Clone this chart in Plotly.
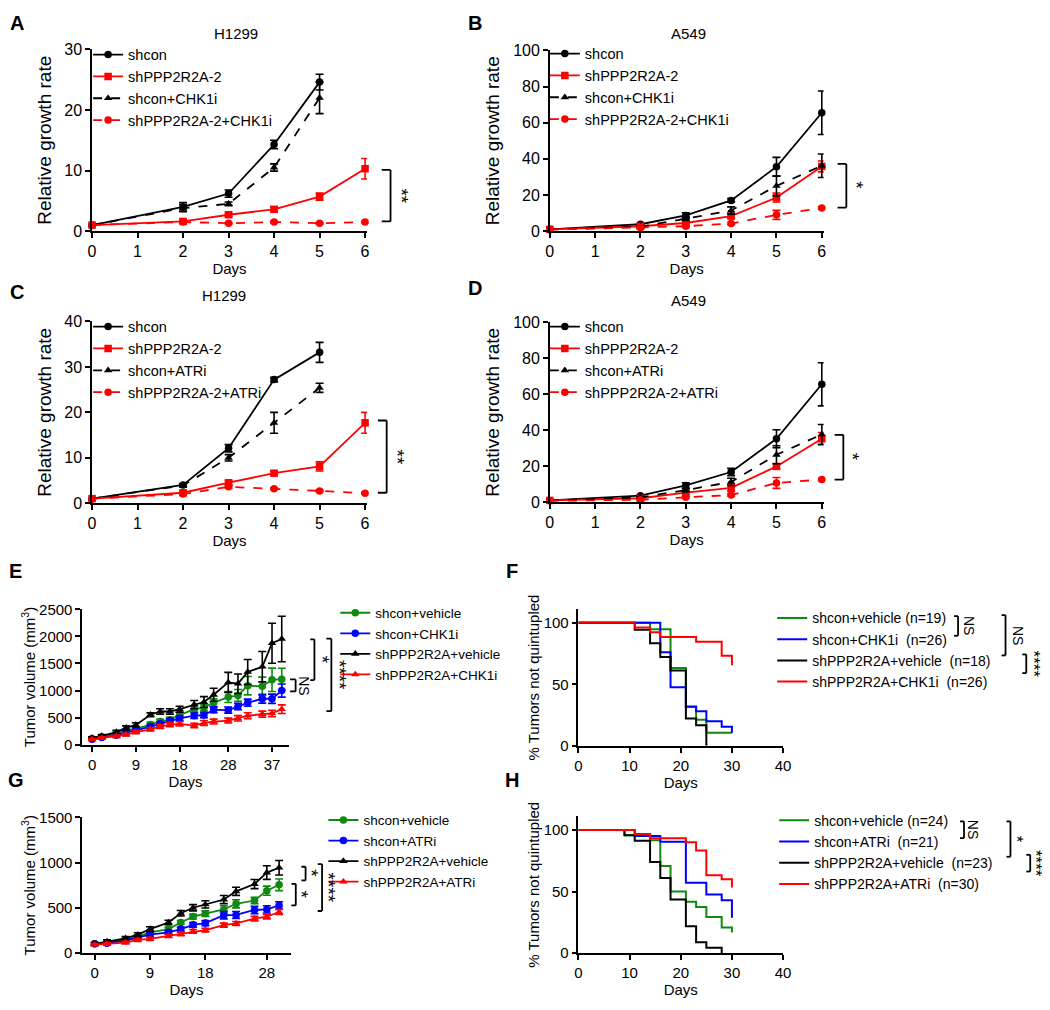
import plotly.graph_objects as go

W, H = 1050, 1010
OFF = 8  # page body margin of the rendered html
def fx(px): return (px - OFF) / W
def fy(py): return 1 - (py - OFF) / H

BLACK, RED, BLUE, GREEN = '#000000', '#ff0000', '#0000ff', '#0f8a0f'
FONT = 'Arial, Liberation Sans, Helvetica, sans-serif'

# ---------------- data: growth assays (A-D) ----------------
days_full = [0, 2, 3, 4, 5, 6]
days_to5 = [0, 2, 3, 4, 5]

A_names = ['shcon', 'shPPP2R2A-2', 'shcon+CHK1i', 'shPPP2R2A-2+CHK1i']
A_shcon = [1.0, 4.0, 6.2, 14.3, 24.6]
A_shcon_err = [0.1, 0.7, 0.6, 0.7, 1.3]
A_sh = [1.0, 1.6, 2.7, 3.6, 5.7, 10.3]
A_sh_err = [0.1, 0.3, 0.3, 0.4, 0.6, 1.7]
A_con_i = [1.0, 3.8, 4.5, 10.5, 22.0]
A_con_i_err = [0.1, 0.6, 0.3, 0.6, 2.6]
A_sh_i = [1.0, 1.5, 1.3, 1.5, 1.3, 1.5]
A_sh_i_err = [0.1, 0.1, 0.1, 0.1, 0.1, 0.1]

B_names = ['shcon', 'shPPP2R2A-2', 'shcon+CHK1i', 'shPPP2R2A-2+CHK1i']
B_shcon = [1.0, 3.8, 8.7, 17.0, 35.6, 65.5]
B_shcon_err = [0.2, 0.5, 1.5, 1.0, 5.2, 12.0]
B_sh = [1.0, 2.7, 4.5, 8.3, 18.6, 35.8]
B_sh_err = [0.2, 0.4, 0.8, 1.2, 2.5, 3.0]
B_con_i = [1.0, 2.4, 6.9, 11.4, 25.0, 36.2]
B_con_i_err = [0.2, 0.4, 1.0, 2.0, 5.5, 6.5]
B_sh_i = [0.8, 1.8, 2.7, 4.2, 9.0, 12.8]
B_sh_i_err = [0.1, 0.3, 0.5, 0.6, 2.5, 0.7]

C_names = ['shcon', 'shPPP2R2A-2', 'shcon+ATRi', 'shPPP2R2A-2+ATRi']
C_shcon = [1.0, 4.0, 12.1, 27.2, 33.2]
C_shcon_err = [0.1, 0.3, 0.8, 0.5, 2.2]
C_sh = [1.0, 2.3, 4.5, 6.6, 8.1, 17.7]
C_sh_err = [0.1, 0.3, 0.5, 0.4, 1.0, 2.3]
C_con_i = [1.0, 3.9, 10.0, 17.7, 25.4]
C_con_i_err = [0.1, 0.3, 0.7, 2.3, 1.0]
C_sh_i = [1.0, 2.0, 3.6, 3.2, 2.7, 2.2]
C_sh_i_err = [0.1, 0.2, 0.3, 0.2, 0.2, 0.2]

D_names = ['shcon', 'shPPP2R2A-2', 'shcon+ATRi', 'shPPP2R2A-2+ATRi']
D_shcon = [1.0, 3.6, 9.3, 16.8, 35.3, 65.6]
D_shcon_err = [0.2, 0.5, 1.5, 2.0, 5.0, 12.0]
D_sh = [1.0, 2.2, 5.3, 8.0, 19.9, 35.3]
D_sh_err = [0.2, 0.4, 1.0, 2.0, 1.5, 3.5]
D_con_i = [1.0, 2.7, 6.7, 11.3, 26.4, 37.7]
D_con_i_err = [0.2, 0.4, 1.0, 2.0, 5.0, 5.5]
D_sh_i = [0.8, 1.3, 2.7, 4.0, 10.7, 12.6]
D_sh_i_err = [0.1, 0.3, 0.5, 0.6, 3.0, 0.7]

# ---------------- data: tumor volume (E, G) ----------------
E_days = [0, 2, 5, 7, 9, 12, 14, 16, 18, 21, 23, 25, 28, 30, 32, 35, 37, 39]
E_names = ['shcon+vehicle', 'shcon+CHK1i', 'shPPP2R2A+vehicle', 'shPPP2R2A+CHK1i']
E_con_veh = [114, 145, 205, 265, 295, 373, 428, 464, 548, 657, 687, 777, 880, 910, 1090, 1078, 1199, 1211]
E_con_veh_err = [15, 20, 25, 30, 35, 40, 40, 45, 50, 55, 60, 70, 100, 110, 170, 170, 215, 200]
E_con_chk = [102, 133, 175, 235, 265, 337, 386, 446, 488, 536, 548, 645, 639, 705, 777, 849, 849, 1000]
E_con_chk_err = [15, 20, 25, 30, 30, 35, 40, 40, 45, 50, 50, 55, 55, 60, 65, 80, 85, 120]
E_sh_veh = [126, 163, 235, 313, 367, 554, 614, 614, 657, 741, 789, 922, 1151, 1127, 1343, 1440, 1873, 1952]
E_sh_veh_err = [20, 25, 30, 35, 40, 35, 50, 50, 55, 75, 100, 120, 185, 180, 230, 280, 370, 420]
E_sh_chk = [102, 126, 157, 187, 235, 283, 337, 373, 386, 355, 404, 428, 446, 488, 536, 566, 578, 657]
E_sh_chk_err = [15, 20, 20, 25, 30, 30, 35, 40, 40, 40, 45, 45, 45, 50, 55, 55, 60, 80]
E_ticks = [0, 9, 18, 28, 37]

G_days = [0, 2, 5, 7, 9, 12, 14, 16, 18, 21, 23, 26, 28, 30]
G_names = ['shcon+vehicle', 'shcon+ATRi', 'shPPP2R2A+vehicle', 'shPPP2R2A+ATRi']
G_con_veh = [102, 113, 145, 182, 229, 265, 338, 403, 436, 483, 545, 581, 690, 755]
G_con_veh_err = [12, 15, 18, 20, 22, 22, 20, 25, 30, 40, 45, 35, 50, 65]
G_con_atr = [102, 109, 138, 174, 203, 229, 265, 312, 331, 418, 421, 476, 483, 527]
G_con_atr_err = [12, 14, 16, 18, 20, 20, 22, 25, 28, 40, 38, 40, 40, 40]
G_sh_veh = [102, 127, 163, 203, 265, 338, 440, 501, 538, 592, 683, 763, 890, 944]
G_sh_veh_err = [15, 18, 20, 22, 25, 25, 30, 35, 40, 45, 45, 50, 75, 80]
G_sh_atr = [94, 102, 116, 145, 156, 189, 211, 240, 254, 309, 327, 381, 403, 454]
G_sh_atr_err = [10, 12, 14, 16, 18, 18, 20, 20, 20, 22, 22, 25, 25, 28]
G_ticks = [0, 9, 18, 28]

# ---------------- data: Kaplan-Meier (F, H) ----------------
F_names = ['shcon+vehicle (n=19)', 'shcon+CHK1i\u00a0 (n=26)',
           'shPPP2R2A+vehicle\u00a0 (n=18)', 'shPPP2R2A+CHK1i\u00a0 (n=26)']
F_con_veh_t = [0, 14, 18, 21, 23, 25, 30]
F_con_veh_s = [100, 94.7, 63.2, 31.6, 21.1, 10.5, 10.5]
F_con_chk_t = [0, 16, 18, 21, 23, 25, 28, 30]
F_con_chk_s = [100, 76.0, 47.5, 32.0, 28.0, 20.0, 15.5, 10.6]
F_sh_veh_t = [0, 11, 14, 16, 18, 21, 23, 25]
F_sh_veh_s = [100, 94.4, 83.3, 72.2, 61.1, 22.2, 16.7, 0]
F_sh_chk_t = [0, 11, 14, 16, 23, 28, 30]
F_sh_chk_s = [100, 96.2, 92.3, 88.5, 84.6, 73.1, 65.4]

H_names = ['shcon+vehicle (n=24)', 'shcon+ATRi\u00a0 (n=21)',
           'shPPP2R2A+vehicle\u00a0 (n=23)', 'shPPP2R2A+ATRi\u00a0 (n=30)']
H_con_veh_t = [0, 9, 14, 16, 18, 21, 23, 25, 28, 30]
H_con_veh_s = [100, 95.8, 91.7, 70.8, 50.0, 41.7, 37.5, 29.2, 20.8, 16.7]
H_con_atr_t = [0, 11, 16, 21, 25, 28, 30]
H_con_atr_s = [100, 95.2, 90.5, 57.1, 47.6, 42.9, 28.6]
H_sh_veh_t = [0, 9, 11, 14, 16, 18, 21, 23, 25, 28]
H_sh_veh_s = [100, 95.7, 91.3, 73.9, 60.9, 43.5, 21.7, 8.7, 4.3, 0]
H_sh_atr_t = [0, 11, 14, 21, 23, 25, 28, 30]
H_sh_atr_s = [100, 96.7, 93.3, 90.0, 83.3, 63.3, 60.0, 53.3]

fig = go.Figure()

def add_growth(idx, x, y, err, name, color, symbol, dash):
    sfx = '' if idx == 1 else str(idx)
    fig.add_trace(go.Scatter(
        x=x, y=y, name=name, mode='lines+markers',
        xaxis='x' + sfx, yaxis='y' + sfx, legend='legend' + sfx,
        line=dict(color=color, width=1.8, dash=dash),
        marker=dict(color=color, symbol=symbol, size=7.5),
        error_y=dict(type='data', array=err, color=color, thickness=1.6, width=4),
        cliponaxis=False))

def add_km(idx, t, s, name, color):
    sfx = str(idx)
    fig.add_trace(go.Scatter(
        x=t, y=s, name=name, mode='lines', line_shape='hv',
        xaxis='x' + sfx, yaxis='y' + sfx, legend='legend' + sfx,
        line=dict(color=color, width=2), cliponaxis=False))

# A
add_growth(1, days_to5, A_shcon, A_shcon_err, A_names[0], BLACK, 'circle', 'solid')
add_growth(1, days_full, A_sh, A_sh_err, A_names[1], RED, 'square', 'solid')
add_growth(1, days_to5, A_con_i, A_con_i_err, A_names[2], BLACK, 'triangle-up', 'dash')
add_growth(1, days_full, A_sh_i, A_sh_i_err, A_names[3], RED, 'circle', 'dash')
# B
add_growth(2, days_full, B_shcon, B_shcon_err, B_names[0], BLACK, 'circle', 'solid')
add_growth(2, days_full, B_sh, B_sh_err, B_names[1], RED, 'square', 'solid')
add_growth(2, days_full, B_con_i, B_con_i_err, B_names[2], BLACK, 'triangle-up', 'dash')
add_growth(2, days_full, B_sh_i, B_sh_i_err, B_names[3], RED, 'circle', 'dash')
# C
add_growth(3, days_to5, C_shcon, C_shcon_err, C_names[0], BLACK, 'circle', 'solid')
add_growth(3, days_full, C_sh, C_sh_err, C_names[1], RED, 'square', 'solid')
add_growth(3, days_to5, C_con_i, C_con_i_err, C_names[2], BLACK, 'triangle-up', 'dash')
add_growth(3, days_full, C_sh_i, C_sh_i_err, C_names[3], RED, 'circle', 'dash')
# D
add_growth(4, days_full, D_shcon, D_shcon_err, D_names[0], BLACK, 'circle', 'solid')
add_growth(4, days_full, D_sh, D_sh_err, D_names[1], RED, 'square', 'solid')
add_growth(4, days_full, D_con_i, D_con_i_err, D_names[2], BLACK, 'triangle-up', 'dash')
add_growth(4, days_full, D_sh_i, D_sh_i_err, D_names[3], RED, 'circle', 'dash')
# E
add_growth(5, E_days, E_con_veh, E_con_veh_err, E_names[0], GREEN, 'circle', 'solid')
add_growth(5, E_days, E_con_chk, E_con_chk_err, E_names[1], BLUE, 'circle', 'solid')
add_growth(5, E_days, E_sh_veh, E_sh_veh_err, E_names[2], BLACK, 'triangle-up', 'solid')
add_growth(5, E_days, E_sh_chk, E_sh_chk_err, E_names[3], RED, 'triangle-up', 'solid')
# F
add_km(6, F_con_veh_t, F_con_veh_s, F_names[0], GREEN)
add_km(6, F_con_chk_t, F_con_chk_s, F_names[1], BLUE)
add_km(6, F_sh_veh_t, F_sh_veh_s, F_names[2], BLACK)
add_km(6, F_sh_chk_t, F_sh_chk_s, F_names[3], RED)
# G
add_growth(7, G_days, G_con_veh, G_con_veh_err, G_names[0], GREEN, 'circle', 'solid')
add_growth(7, G_days, G_con_atr, G_con_atr_err, G_names[1], BLUE, 'circle', 'solid')
add_growth(7, G_days, G_sh_veh, G_sh_veh_err, G_names[2], BLACK, 'triangle-up', 'solid')
add_growth(7, G_days, G_sh_atr, G_sh_atr_err, G_names[3], RED, 'triangle-up', 'solid')
# H
add_km(8, H_con_veh_t, H_con_veh_s, H_names[0], GREEN)
add_km(8, H_con_atr_t, H_con_atr_s, H_names[1], BLUE)
add_km(8, H_sh_veh_t, H_sh_veh_s, H_names[2], BLACK)
add_km(8, H_sh_atr_t, H_sh_atr_s, H_names[3], RED)

# ---------------- axes ----------------
panels = {
    1: dict(px=(89, 367), py=(41, 226), xr=[0, 6.04], yr=[0, 30], ydt=10, ytitle='Relative growth rate', fs=16, tfs=19, ystand=8),
    2: dict(px=(552, 829), py=(42, 226), xr=[0, 6.04], yr=[0, 100], ydt=20, ytitle='Relative growth rate', fs=16, tfs=19, ystand=8),
    3: dict(px=(89, 367), py=(318, 503), xr=[0, 6.04], yr=[0, 40], ydt=10, ytitle='Relative growth rate', fs=16, tfs=19, ystand=8),
    4: dict(px=(552, 829), py=(319, 502), xr=[0, 6.04], yr=[0, 100], ydt=20, ytitle='Relative growth rate', fs=16, tfs=19, ystand=8),
    5: dict(px=(79, 288), py=(611, 749), xr=[-2.03, 40.45], yr=[0, 2500], ydt=500, ytitle='Tumor volume (mm<sup>3</sup>)', fs=15, tfs=15, ystand=0),
    6: dict(px=(581, 788), py=(611, 750), xr=[0, 40], yr=[0, 111], ydt=None, ytitle='% Tumors not quintupled', fs=15, tfs=15, ystand=0),
    7: dict(px=(79, 290), py=(823, 961), xr=[-2.04, 31.9], yr=[0, 1500], ydt=500, ytitle='Tumor volume (mm<sup>3</sup>)', fs=15, tfs=15, ystand=0),
    8: dict(px=(581, 788), py=(822, 961), xr=[0, 40], yr=[0, 111], ydt=None, ytitle='% Tumors not quintupled', fs=15, tfs=15, ystand=0),
}

axis_common = dict(showline=True, linecolor='black', linewidth=1.5, ticks='outside',
                   ticklen=5, tickwidth=1.5, tickcolor='black', showgrid=False,
                   zeroline=False, color='black')
layout_axes = {}
for i, p in panels.items():
    sfx = '' if i == 1 else str(i)
    xa = dict(axis_common, domain=[fx(p['px'][0]), fx(p['px'][1])], range=p['xr'],
              anchor='y' + sfx, tickfont=dict(size=p['fs']),
              title=dict(text='Days', font=dict(size=15), standoff=2))
    if i <= 4:
        xa.update(tickmode='array', tickvals=[0, 1, 2, 3, 4, 5, 6])
    elif i == 5:
        xa.update(tickmode='array', tickvals=E_ticks)
    elif i == 7:
        xa.update(tickmode='array', tickvals=G_ticks)
    else:
        xa.update(tickmode='array', tickvals=[0, 10, 20, 30, 40])
    ya = dict(axis_common, domain=[fy(p['py'][1]), fy(p['py'][0])], range=p['yr'],
              anchor='x' + sfx, tickfont=dict(size=p['fs']),
              title=dict(text=p['ytitle'], font=dict(size=p['tfs']), standoff=p['ystand']))
    if p['ydt'] is None:
        ya.update(tickmode='array', tickvals=[0, 50, 100])
    else:
        ya.update(dtick=p['ydt'], tick0=0)
    layout_axes['xaxis' + sfx] = xa
    layout_axes['yaxis' + sfx] = ya

# ---------------- legends ----------------
# (text start x, first entry centre y, font size) in reference pixels
legend_pos = {1: (125, 45, 14.5), 2: (587, 44, 14.5), 3: (125, 322, 14.5), 4: (587, 322, 14.5),
              5: (375, 614, 13.5), 6: (817, 619, 14), 7: (363, 825, 13.5), 8: (819, 825, 14)}
layout_legends = {}
for i, (lx, ly, lfs) in legend_pos.items():
    key = 'legend' if i == 1 else 'legend' + str(i)
    layout_legends[key] = dict(x=fx(lx - 40), y=fy(ly - 15), xanchor='left', yanchor='top',
                               bgcolor='rgba(0,0,0,0)', font=dict(size=lfs, color='black'),
                               tracegroupgap=0)

# ---------------- annotations ----------------
ann = []
for letter, (lx, ly) in {'A': (13, 14), 'B': (476, 14), 'C': (13, 288), 'D': (476, 284),
                         'E': (12, 572), 'F': (514, 572), 'G': (12, 785), 'H': (514, 785)}.items():
    ann.append(dict(text='<b>%s</b>' % letter, x=fx(lx), y=fy(ly), xref='paper', yref='paper',
                    xanchor='center', yanchor='middle', showarrow=False,
                    font=dict(size=20, color='black')))
for txt, (tx, ty) in [('H1299', (235, 25)), ('A549', (692, 25)), ('H1299', (222, 292)), ('A549', (692, 297))]:
    ann.append(dict(text=txt, x=fx(tx), y=fy(ty), xref='paper', yref='paper',
                    xanchor='center', yanchor='middle', showarrow=False,
                    font=dict(size=15, color='black')))

shapes = []
# brackets tied to data axes: (panel, x_vertical, x_tick, y_top, y_bottom, text, x_text)
brackets = [
    (1, 1.086, 1.054, 10.1, 1.6, '**', 1.125),
    (2, 1.083, 1.051, 37.2, 13.0, '*', 1.12),
    (3, 1.072, 1.040, 18.2, 2.3, '**', 1.11),
    (4, 1.072, 1.040, 37.5, 12.6, '*', 1.105),
    (5, 1.033, 1.006, 1205, 985, 'NS', 1.07),
    (5, 1.124, 1.104, 1946, 1193, '*', 1.16),
    (5, 1.206, 1.182, 1958, 620, '****', 1.243),
    (7, 1.071, 1.051, 955, 803, '*', 1.098),
    (7, 1.024, 1.003, 766, 527, '*', 1.05),
    (7, 1.150, 1.129, 984, 465, '****', 1.183),
]
for (i, xv, xt, yt, yb, txt, xtx) in brackets:
    sfx = '' if i == 1 else str(i)
    for (x0, y0, x1, y1) in [(xt, yt, xv, yt), (xv, yt, xv, yb), (xt, yb, xv, yb)]:
        shapes.append(dict(type='line', xref='x%s domain' % sfx, yref='y' + sfx,
                           x0=x0, x1=x1, y0=y0, y1=y1, line=dict(color='black', width=1.8)))
    ann.append(dict(text=txt, x=xtx, y=(yt + yb) / 2, xref='x%s domain' % sfx, yref='y' + sfx,
                    xanchor='center', yanchor='middle', showarrow=False, textangle=90,
                    font=dict(size=14 if txt == 'NS' else 19, color='black')))

km_brackets = [
    (965, 961, 618, 638, 'NS', 976),
    (1013, 1009, 617, 658, 'NS', 1025),
    (1034, 1030, 657, 676, '****', 1041),
    (971, 967, 827, 844, 'NS', 980),
    (1018, 1014, 827, 863, '*', 1025),
    (1038, 1034, 861, 878, '****', 1044),
]
for (xv, xt, yt, yb, txt, xtx) in km_brackets:
    for (x0, y0, x1, y1) in [(xt, yt, xv, yt), (xv, yt, xv, yb), (xt, yb, xv, yb)]:
        shapes.append(dict(type='line', xref='paper', yref='paper',
                           x0=fx(x0), x1=fx(x1), y0=fy(y0), y1=fy(y1),
                           line=dict(color='black', width=1.8)))
    ann.append(dict(text=txt, x=fx(xtx), y=fy((yt + yb) / 2), xref='paper', yref='paper',
                    xanchor='center', yanchor='middle', showarrow=False, textangle=90,
                    font=dict(size=14 if txt == 'NS' else 17, color='black')))

fig.update_layout(
    width=W, height=H, margin=dict(l=0, r=0, t=0, b=0),
    paper_bgcolor='white', plot_bgcolor='white',
    font=dict(family=FONT, color='black'),
    showlegend=True, annotations=ann, shapes=shapes,
    **layout_axes, **layout_legends)

fig.write_html('out.html')
